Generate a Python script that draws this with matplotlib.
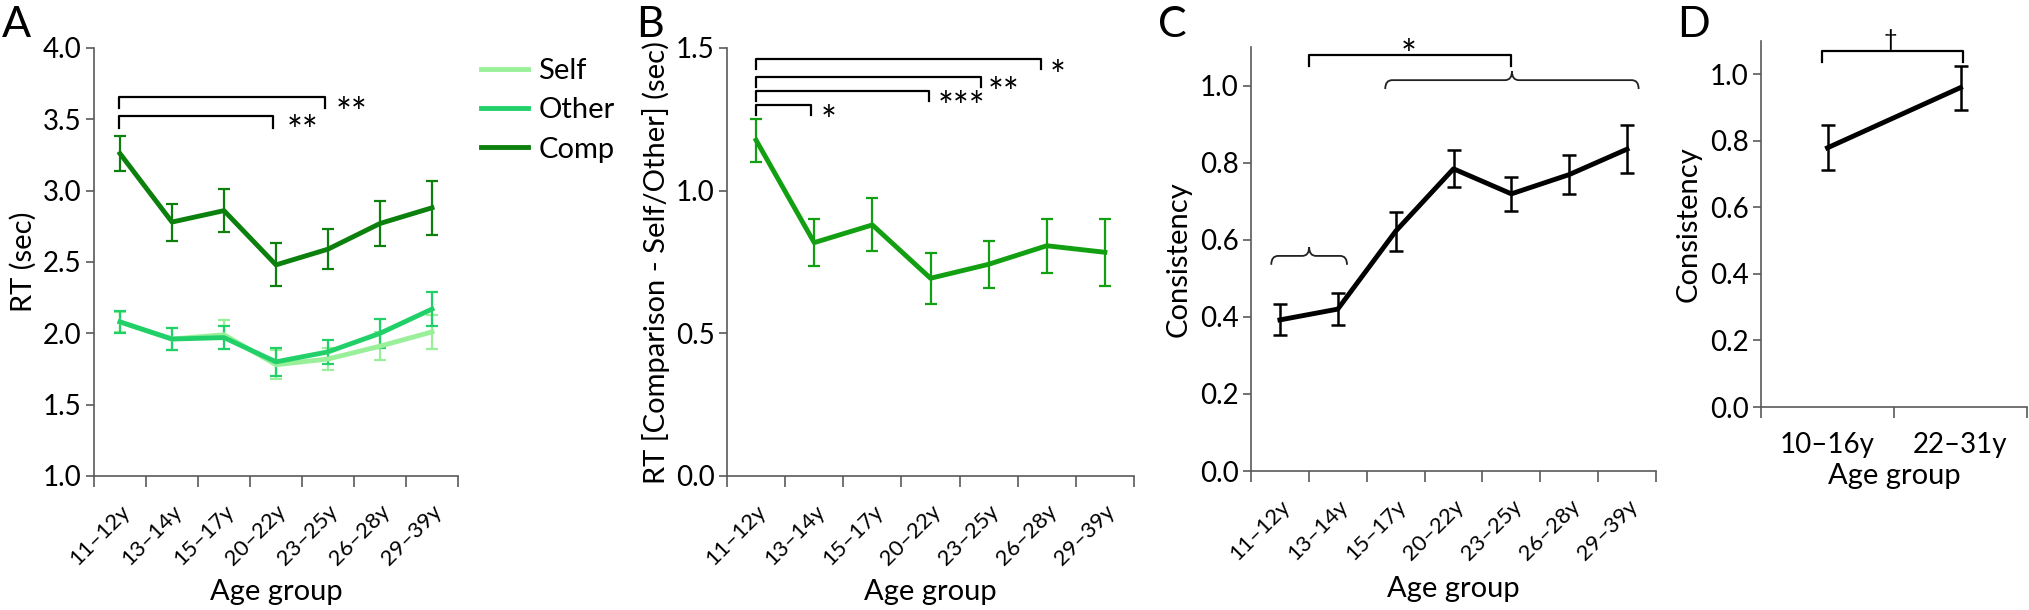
import numpy as np
import matplotlib
matplotlib.use('Agg')
import matplotlib.pyplot as plt
from matplotlib.path import Path
from matplotlib.patches import PathPatch

plt.rcParams['font.family'] = ['Lato', 'DejaVu Sans']

# data
age_groups = ['11–12y', '13–14y', '15–17y', '20–22y', '23–25y', '26–28y', '29–39y']
age_groups_d = ['10–16y', '22–31y']

rt_self = [2.08, 1.96, 1.99, 1.78, 1.82, 1.91, 2.01]
rt_self_err = [0.07, 0.08, 0.10, 0.10, 0.08, 0.10, 0.12]
rt_other = [2.08, 1.96, 1.97, 1.80, 1.87, 2.00, 2.17]
rt_other_err = [0.075, 0.08, 0.08, 0.10, 0.085, 0.10, 0.12]
rt_comp = [3.26, 2.78, 2.86, 2.48, 2.59, 2.77, 2.88]
rt_comp_err = [0.12, 0.13, 0.15, 0.15, 0.14, 0.16, 0.19]

rt_diff = [1.177, 0.818, 0.880, 0.693, 0.742, 0.807, 0.784]
rt_diff_err = [0.075, 0.081, 0.093, 0.089, 0.083, 0.095, 0.118]

consistency = [0.392, 0.420, 0.622, 0.784, 0.719, 0.769, 0.835]
consistency_err = [0.040, 0.041, 0.050, 0.048, 0.045, 0.050, 0.063]

consistency_d = [0.779, 0.960]
consistency_d_err = [0.068, 0.066]

W, H = 2029, 610
fig = plt.figure(figsize=(W / 100, H / 100), dpi=100)

AX_COLOR = '#5a5a5a'
TICK_FS = 20
LABEL_FS = 21


def make_axes(left, right, top, bottom):
    ax = fig.add_axes([left / W, 1 - bottom / H, (right - left) / W, (bottom - top) / H])
    for s in ['top', 'right']:
        ax.spines[s].set_visible(False)
    for s in ['left', 'bottom']:
        ax.spines[s].set_color(AX_COLOR)
        ax.spines[s].set_linewidth(1.2)
    ax.tick_params(which='major', color=AX_COLOR, width=1.2, length=6,
                   labelsize=TICK_FS, pad=3)
    return ax


def category_axis(ax, labels, xlabel_y, rotate=True):
    # xlabel_y: centre of "Age group" in figure pixels from the top
    n = len(labels)
    ax.set_xlim(-0.5, n - 0.5)
    ax.set_xticks(np.arange(-0.5, n, 1))
    ax.set_xticklabels([])
    ax.tick_params(axis='x', which='major', length=8)
    if rotate:
        ax.set_xticks(np.arange(n), labels, minor=True, rotation=45, ha='right',
                      rotation_mode='anchor')
        ax.tick_params(axis='x', which='minor', length=0, labelsize=16, pad=18)
    else:
        ax.set_xticks(np.arange(n), labels, minor=True)
        ax.tick_params(axis='x', which='minor', length=0, labelsize=TICK_FS, pad=18)
    ax.set_xlabel('Age group', fontsize=LABEL_FS, va='center')
    pos = ax.get_position()
    bottom_px = (1 - pos.y0) * H
    ax.xaxis.set_label_coords(0.5, -(xlabel_y - bottom_px) / (pos.height * H))


def stars(ax, tx, ty, text, size=27):
    # asterisks sit high in the font, so drop the baseline below the target centre
    ax.annotate(text, xy=(tx, ty), xytext=(0, -15), textcoords='offset points',
                fontsize=size, ha='left', va='baseline', annotation_clip=False)


def bracket(ax, x0, x1, y, drop):
    ax.plot([x0, x0, x1, x1], [y - drop, y, y, y - drop], color='black', lw=1.6,
            clip_on=False)


def brace(ax, x0, x1, y, h, d):
    xm = (x0 + x1) / 2
    verts = [(x0, y - h), (x0, y), (x0 + d, y),
             (xm - d, y),
             (xm, y), (xm, y + h),
             (xm, y), (xm + d, y),
             (x1 - d, y),
             (x1, y), (x1, y - h)]
    codes = [Path.MOVETO, Path.CURVE3, Path.CURVE3,
             Path.LINETO,
             Path.CURVE3, Path.CURVE3,
             Path.CURVE3, Path.CURVE3,
             Path.LINETO,
             Path.CURVE3, Path.CURVE3]
    ax.add_patch(PathPatch(Path(verts, codes), fill=False, lw=1.3, color='#222222',
                           clip_on=False))


x7 = np.arange(len(age_groups))

# ---- A
axA = make_axes(94, 458, 48, 476)
colors = {'Self': '#9af09a', 'Other': '#22d06a', 'Comp': '#0c800c'}
for name, vals, err in [('Self', rt_self, rt_self_err),
                        ('Other', rt_other, rt_other_err),
                        ('Comp', rt_comp, rt_comp_err)]:
    axA.errorbar(x7, vals, yerr=err, color=colors[name], lw=3.5, elinewidth=1.6,
                 capsize=4.5, capthick=1.6, label=name)
axA.set_ylim(1.0, 4.0)
axA.set_yticks(np.arange(1.0, 4.01, 0.5))
axA.set_yticklabels(['%.1f' % v for v in np.arange(1.0, 4.01, 0.5)])
category_axis(axA, age_groups, 592)
axA.set_ylabel('RT (sec)', fontsize=LABEL_FS, labelpad=4)
bracket(axA, -0.02, 3.95, 3.66, 0.08)
stars(axA, 4.15, 3.60, '**')
bracket(axA, -0.02, 2.95, 3.52, 0.08)
stars(axA, 3.2, 3.47, '**')
handles, labels = axA.get_legend_handles_labels()
lines = [h[0] for h in handles]
fig.legend(lines, labels, loc='upper left', bbox_to_anchor=(455 / W, 1 - 32 / H),
           frameon=False, fontsize=LABEL_FS, handlelength=1.6, handletextpad=0.35,
           labelspacing=0.45)

# ---- B
axB = make_axes(727, 1134, 48, 476)
axB.errorbar(x7, rt_diff, yerr=rt_diff_err, color='#12a012', lw=3.5, elinewidth=1.6,
             capsize=4.5, capthick=1.6)
axB.set_ylim(0, 1.5)
axB.set_yticks([0, 0.5, 1.0, 1.5])
axB.set_yticklabels(['0.0', '0.5', '1.0', '1.5'])
category_axis(axB, age_groups, 592)
axB.set_ylabel('RT [Comparison - Self/Other] (sec)', fontsize=LABEL_FS, labelpad=4)
bracket(axB, 0, 0.95, 1.30, 0.035)
stars(axB, 1.12, 1.27, '*')
bracket(axB, 0, 2.97, 1.35, 0.035)
stars(axB, 3.12, 1.32, '***')
bracket(axB, 0, 3.86, 1.40, 0.035)
stars(axB, 3.98, 1.37, '**')
bracket(axB, 0, 4.9, 1.463, 0.035)
stars(axB, 5.05, 1.43, '*')

# ---- C
axC = make_axes(1251, 1656, 47, 471)
axC.errorbar(x7, consistency, yerr=consistency_err, color='black', lw=3.5,
             elinewidth=1.8, capsize=5, capthick=1.8)
axC.set_ylim(0, 1.1)
axC.set_yticks(np.arange(0, 1.01, 0.2))
axC.set_yticklabels(['%.1f' % v for v in np.arange(0, 1.01, 0.2)])
category_axis(axC, age_groups, 589)
axC.set_ylabel('Consistency', fontsize=LABEL_FS, labelpad=6)
bracket(axC, 0.5, 4.0, 1.08, 0.028)
stars(axC, 2.08, 1.10, '*')
brace(axC, -0.15, 1.16, 0.558, 0.023, 0.12)
brace(axC, 1.82, 6.2, 1.014, 0.023, 0.12)

# ---- D
axD = make_axes(1761, 2027, 41, 407)
xd = np.arange(len(age_groups_d))
axD.errorbar(xd, consistency_d, yerr=consistency_d_err, color='black', lw=3.5,
             elinewidth=1.8, capsize=5, capthick=1.8)
axD.set_ylim(0, 1.1)
axD.set_yticks(np.arange(0, 1.01, 0.2))
axD.set_yticklabels(['%.1f' % v for v in np.arange(0, 1.01, 0.2)])
category_axis(axD, age_groups_d, 476, rotate=False)
axD.set_ylabel('Consistency', fontsize=LABEL_FS, labelpad=6)
bracket(axD, -0.04, 1.02, 1.07, 0.033)
axD.text(0.47, 1.105, '†', fontsize=17, ha='center', va='center')

# panel letters
for letter, x in [('A', 2), ('B', 636), ('C', 1158), ('D', 1677)]:
    fig.text(x / W, 1 - 6 / H, letter, fontsize=31, ha='left', va='top')

fig.savefig('out.png', dpi=100)
